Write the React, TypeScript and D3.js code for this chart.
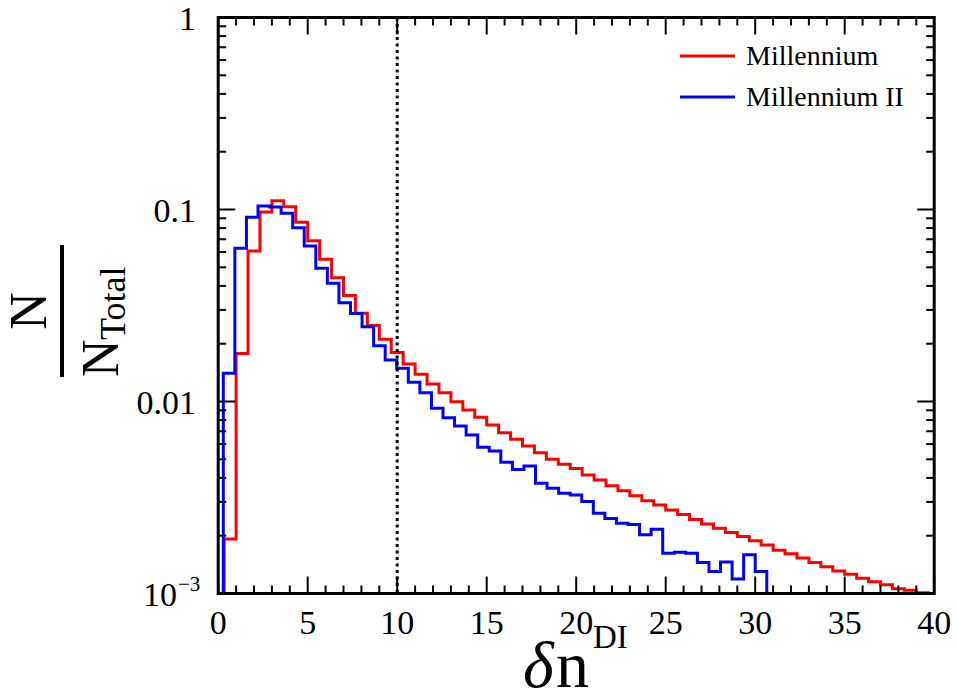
import React from 'react';
import * as d3 from 'd3';

const W = 957;
const H = 695;
const PLOT = { left: 218.2, right: 934.2, top: 17.5, bottom: 593.5 };

const xMajorTicks = [0, 5, 10, 15, 20, 25, 30, 35, 40];
const xMinorTicks = d3.range(0, 41, 1);
const yMajorTicks = [1, 0.1, 0.01, 0.001];
const yTickLabels = ['1', '0.1', '0.01', '10'];
const yTickExps = ['', '', '', '−3'];
const cutLine = 10;

// Millennium: bins of width 2/3 starting at 1/3
const redBinStart = 1 / 3;
const redBinWidth = 2 / 3;
const redValues = [
  0.00192, 0.0178, 0.0608, 0.0971, 0.111, 0.1035, 0.0858, 0.0688, 0.055, 0.0441,
  0.0356, 0.0288, 0.0249, 0.0211, 0.018, 0.01568, 0.01386, 0.01234, 0.0111, 0.00998,
  0.00903, 0.00828, 0.00755, 0.00688, 0.00636, 0.00586, 0.00541, 0.005, 0.00471, 0.00448,
  0.00414, 0.0039, 0.00364, 0.00343, 0.00323, 0.00304, 0.00289, 0.00272, 0.00258, 0.00243,
  0.0023, 0.00219, 0.00208, 0.00198, 0.00188, 0.00179, 0.00168, 0.00161, 0.00153, 0.00145,
  0.00138, 0.00131, 0.00126, 0.0012, 0.00115, 0.00111, 0.00106, 0.00104, 0.00101, 0.00097,
];

// Millennium II
const blueBinStart = 0.285;
const blueBinWidth = 0.646;
const blueValues = [
  0.01403, 0.0628, 0.091, 0.1042, 0.103, 0.0955, 0.0803, 0.0646, 0.0494, 0.0413,
  0.0327, 0.0287, 0.0245, 0.0195, 0.01644, 0.01489, 0.0126, 0.01111, 0.00922, 0.00823,
  0.00745, 0.0067, 0.00577, 0.00552, 0.00482, 0.00443, 0.00461, 0.00375, 0.00353, 0.00333,
  0.00326, 0.00301, 0.00262, 0.00246, 0.00232, 0.00229, 0.00202, 0.00216, 0.00162, 0.00164,
  0.00162, 0.00145, 0.0013, 0.00146, 0.00119, 0.00159, 0.0013,
];

const seriesNames = ['Millennium', 'Millennium II'];
const seriesColors = ['#ff0000', '#0000ff'];

const F = 'Liberation Serif';

export default function App() {
  const x = d3.scaleLinear().domain([0, 40]).range([PLOT.left, PLOT.right]);
  const y = d3.scaleLog().domain([0.001, 1]).range([PLOT.bottom, PLOT.top]);

  const stepPath = (start: number, width: number, values: number[]) => {
    const below = PLOT.bottom + 20;
    const pts: [number, number][] = [];
    pts.push([x(start), below]);
    values.forEach((v, i) => {
      const x0 = start + i * width;
      const x1 = start + (i + 1) * width;
      pts.push([x(x0), y(v)]);
      pts.push([x(x1), y(v)]);
    });
    pts.push([x(start + values.length * width), below]);
    return d3.line()(pts) || '';
  };

  const yMinor: number[] = [];
  [0.001, 0.01, 0.1].forEach((d) => {
    for (let k = 2; k <= 9; k++) yMinor.push(d * k);
  });

  const frameW = 3;
  const majorLen = 17;
  const minorLen = 8;

  return (
    <svg width={W} height={H} fontFamily={F} style={{ position: 'absolute', left: 0, top: 0, background: '#fff' }}>
      <defs>
        <clipPath id="plotclip">
          <rect x={PLOT.left} y={PLOT.top} width={PLOT.right - PLOT.left} height={PLOT.bottom - PLOT.top} />
        </clipPath>
      </defs>
      <rect x={0} y={0} width={W} height={H} fill="#fff" />

      {/* data */}
      <g clipPath="url(#plotclip)" fill="none" strokeWidth={3} strokeLinejoin="miter">
        <path d={stepPath(redBinStart, redBinWidth, redValues)} stroke={seriesColors[0]} />
        <path d={stepPath(blueBinStart, blueBinWidth, blueValues)} stroke={seriesColors[1]} />
      </g>

      {/* dotted vertical line */}
      <line x1={x(cutLine)} x2={x(cutLine)} y1={PLOT.top} y2={PLOT.bottom} stroke="#000" strokeWidth={3} strokeDasharray="3,3.5" />

      {/* ticks */}
      <g stroke="#000" strokeWidth={2}>
        {xMinorTicks.map((t) => {
          const len = t % 5 === 0 ? majorLen : minorLen;
          return (
            <g key={'xt' + t}>
              <line x1={x(t)} x2={x(t)} y1={PLOT.bottom} y2={PLOT.bottom - len} />
              <line x1={x(t)} x2={x(t)} y1={PLOT.top} y2={PLOT.top + len} />
            </g>
          );
        })}
        {yMajorTicks.map((t) => (
          <g key={'yt' + t}>
            <line x1={PLOT.left} x2={PLOT.left + majorLen} y1={y(t)} y2={y(t)} />
            <line x1={PLOT.right} x2={PLOT.right - majorLen} y1={y(t)} y2={y(t)} />
          </g>
        ))}
        {yMinor.map((t) => (
          <g key={'ym' + t}>
            <line x1={PLOT.left} x2={PLOT.left + minorLen} y1={y(t)} y2={y(t)} />
            <line x1={PLOT.right} x2={PLOT.right - minorLen} y1={y(t)} y2={y(t)} />
          </g>
        ))}
      </g>

      {/* frame */}
      <rect x={PLOT.left} y={PLOT.top} width={PLOT.right - PLOT.left} height={PLOT.bottom - PLOT.top} fill="none" stroke="#000" strokeWidth={frameW} />

      {/* x tick labels */}
      {xMajorTicks.map((t) => (
        <text key={'xl' + t} fontFamily={F} x={x(t)} y={634} fontSize={34} textAnchor="middle" fill="#000">
          {String(t)}
        </text>
      ))}

      {/* y tick labels */}
      {yMajorTicks.map((t, i) => (
        <text key={'yl' + t} fontFamily={F} x={yTickExps[i] ? 177 : 196} y={y(t) + 12} fontSize={34} textAnchor="end" fill="#000">
          {yTickLabels[i]}
        </text>
      ))}
      {yMajorTicks.map((t, i) =>
        yTickExps[i] ? (
          <text key={'ye' + t} fontFamily={F} x={178} y={y(t) - 3} fontSize={21} textAnchor="start" fill="#000">
            {yTickExps[i]}
          </text>
        ) : null
      )}

      {/* x axis title */}
      <text fontFamily={F} x={523} y={687} fontSize={66} fontStyle="italic" fill="#000">δ</text>
      <text fontFamily={F} x={556} y={687} fontSize={66} fill="#000">n</text>
      <text fontFamily={F} x={593} y={648} fontSize={33} fill="#000">DI</text>

      {/* y axis title (fraction) */}
      <g transform="translate(62,311) rotate(-90)" fill="#000">
        <text fontFamily={F} x={0} y={-16} fontSize={52} textAnchor="middle">N</text>
        <line x1={-66} x2={66} y1={0} y2={0} stroke="#000" strokeWidth={4} />
        <text fontFamily={F} x={-66} y={56} fontSize={52}>N</text>
        <text fontFamily={F} x={-29} y={63} fontSize={36}>Total</text>
      </g>

      {/* legend */}
      {seriesNames.map((n, i) => (
        <g key={n}>
          <line x1={680} x2={735} y1={56 + i * 41} y2={56 + i * 41} stroke={seriesColors[i]} strokeWidth={3} />
          <text fontFamily={F} x={746} y={65 + i * 41} fontSize={28} fill="#000">{n}</text>
        </g>
      ))}
    </svg>
  );
}
